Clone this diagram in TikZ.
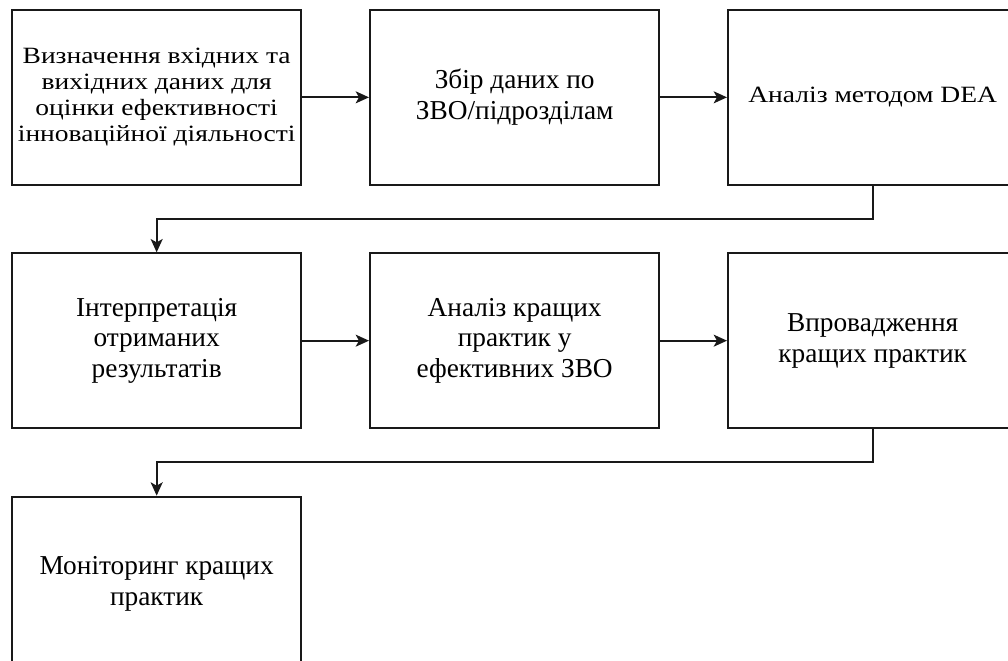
\documentclass[tikz,border=0pt]{standalone}
\usepackage{fontspec}
\setmainfont{Liberation Serif}
\newfontfamily\widefont{Liberation Serif}[FakeStretch=1.18]
\usetikzlibrary{shapes,arrows.meta,positioning,calc}

\begin{document}
\begin{tikzpicture}[
    x=0.75pt, y=-0.75pt,
    node distance=50pt,
    every node/.style={font=\fontsize{20.5}{23}\selectfont},
    block/.style={rectangle, draw=black!90, line width=1.5pt, minimum width=217pt, minimum height=131pt, align=center},
    wide/.style={font=\widefont\fontsize{17.5}{19.5}\selectfont},
    line/.style={draw=black!90, line width=1.3pt, -{Stealth[length=10pt,width=9pt,inset=2.5pt]}}
]
\useasboundingbox (0,0) rectangle (1008,661);

% First row
\node[block, wide, anchor=north west] (inputs) at (11,9) {Визначення вхідних та \\ вихідних даних для \\ оцінки ефективності \\ інноваційної діяльності};
\node[block, right=of inputs] (collect) {Збір даних по \\ ЗВО/підрозділам};
\node[block, wide, right=of collect] (dea) {Аналіз методом DEA};

% Second row
\node[block, below=of inputs] (interp) {Інтерпретація \\ отриманих \\ результатів};
\node[block, right=of interp] (bestan) {Аналіз кращих \\ практик у \\ ефективних ЗВО};
\node[block, right=of bestan] (implement) {Впровадження \\ кращих практик};

% Third row
\node[block, below=of interp] (monitor) {Моніторинг кращих \\ практик};

% Connections
\path [line] (inputs) -- (collect);
\path [line] (collect) -- (dea);
\path [line] (dea.south) -- ++(0,-25pt) -| (interp.north);
\path [line] (interp) -- (bestan);
\path [line] (bestan) -- (implement);
\path [line] (implement.south) -- ++(0,-25pt) -| (monitor.north);

\end{tikzpicture}
\end{document}
